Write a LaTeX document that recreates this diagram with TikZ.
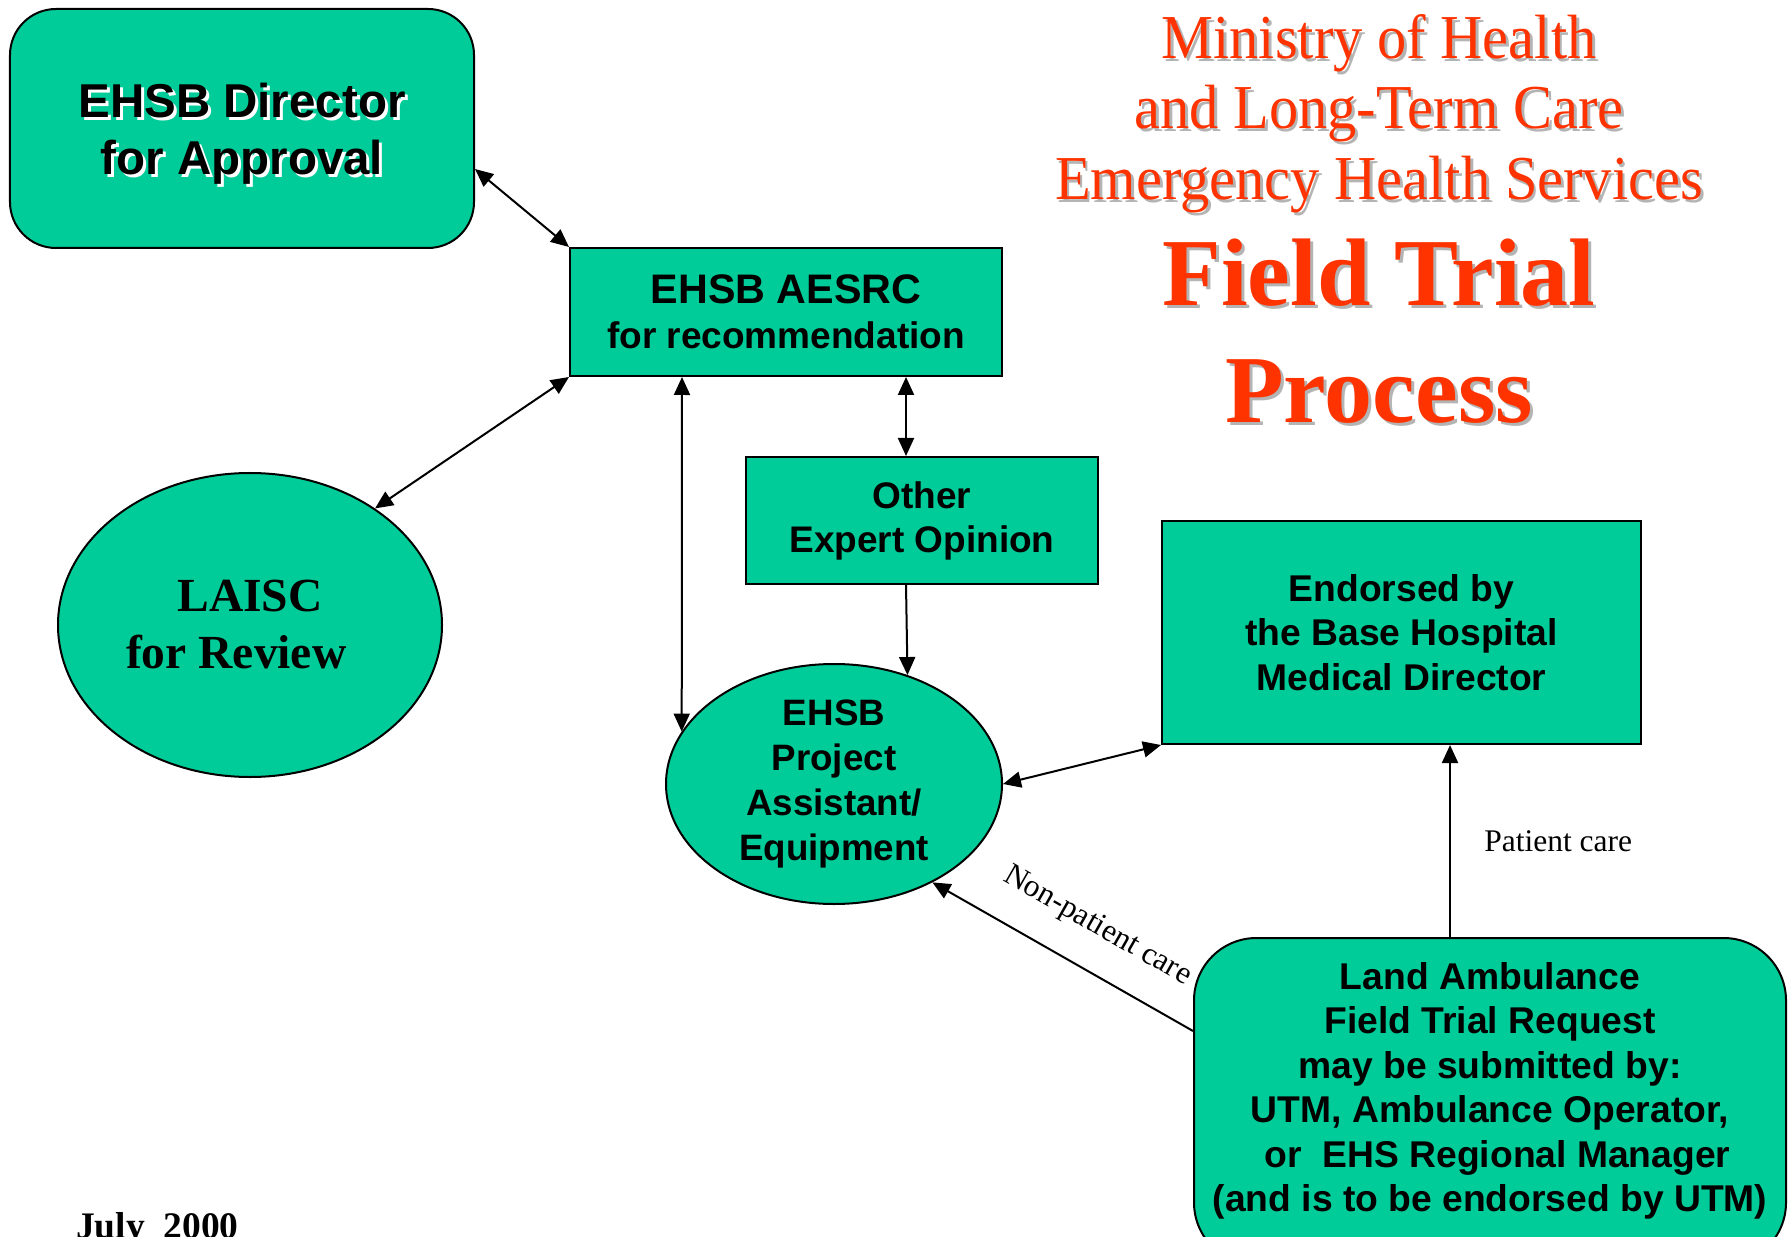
\documentclass[tikz,border=0pt]{standalone}
\usepackage{fontspec}
\usepackage{graphicx}
\setmainfont{Liberation Serif}
\setsansfont{Liberation Sans}
\usetikzlibrary{arrows.meta,shapes.geometric}
\definecolor{boxgreen}{HTML}{00CC99}
\definecolor{titlered}{HTML}{FF3300}
\definecolor{shadowgray}{HTML}{B4B4B4}
\newcommand\shadowed[2]{\makebox[0pt][l]{\hspace*{1.2pt}\raisebox{-1.2pt}{\color{#1}#2}}#2}
\newcommand\narrowed[1]{\scalebox{0.935}[1]{#1}}

\begin{document}
\begin{tikzpicture}[x=0.4pt,y=-0.4pt,>={Triangle[length=7.2pt,width=6.4pt]},line width=0.8pt,
  greenbox/.style={draw,fill=boxgreen,align=center,inner sep=0pt,font=\sffamily\bfseries},
  greenoval/.style={greenbox,ellipse},
  titleline/.style={anchor=base,text=titlered,font=\fontsize{25}{28}\selectfont},
  bigtitle/.style={anchor=base,text=titlered,font=\bfseries\fontsize{38.4}{46}\selectfont},
  remark/.style={font=\fontsize{12.6}{14}\selectfont}]
  \useasboundingbox (0,0) rectangle (1791,1237);
  \clip (0,0) rectangle (1791,1237);

  \node[greenbox,rounded corners=18.4pt,minimum width=185.6pt,minimum height=95.6pt,
    font=\sffamily\bfseries\fontsize{19}{22.8}\selectfont] (director) at (242,128.5)
    {\rule{0pt}{19.5pt}\shadowed{white}{EHSB Director}\\\shadowed{white}{for Approval}};
  \node[greenbox,minimum width=172.8pt,minimum height=51.2pt,
    font=\sffamily\bfseries\fontsize{14.8}{18}\selectfont] (aesrc) at (786,312)
    {{\fontsize{16.5}{18}\selectfont EHSB AESRC}\\for recommendation};
  \node[greenbox,minimum width=140.8pt,minimum height=50.8pt,
    font=\sffamily\bfseries\fontsize{14.8}{17.6}\selectfont] (other) at (922,520.5)
    {Other\\Expert Opinion};
  \node[greenbox,minimum width=191.6pt,minimum height=89.2pt,
    font=\sffamily\bfseries\fontsize{14.9}{17.8}\selectfont] (endorsed) at (1401.5,632.5)
    {Endorsed by\\the Base Hospital\\Medical Director};
  \node[greenoval,minimum width=153.6pt,minimum height=121.6pt,
    font=\bfseries\fontsize{19}{22.8}\selectfont] (laisc) at (250,625)
    {LAISC\\for Review\hspace*{11pt}};
  \node[greenoval,minimum width=134.4pt,minimum height=96pt,
    font=\sffamily\bfseries\fontsize{14.7}{17.9}\selectfont] (project) at (834,784)
    {EHSB\\Project\\Assistant/\\Equipment};
  \node[greenbox,rounded corners=25pt,minimum width=236.8pt,minimum height=130.8pt,text depth=11.6pt,
    font=\sffamily\bfseries\fontsize{14.9}{17.8}\selectfont] (ambulance) at (1490,1101.5)
    {Land Ambulance\\Field Trial Request\\may be submitted by:\\UTM, Ambulance Operator,\\\hspace*{6pt}or\ \ EHS Regional Manager\\(and is to be endorsed by UTM)};

  % title
  \node[titleline] (ministry) at (1379,59) {\narrowed{\shadowed{shadowgray}{Ministry of Health}}};
  \node[titleline] (longterm) at (1379,129) {\narrowed{\shadowed{shadowgray}{and Long-Term Care}}};
  \node[titleline] (ehs) at (1379,200) {\narrowed{\shadowed{shadowgray}{Emergency Health Services}}};
  \node[bigtitle] (field) at (1379,306) {\shadowed{shadowgray}{Field Trial}};
  \node[bigtitle] (process) at (1379,423) {\shadowed{shadowgray}{Process}};
  \node[anchor=base west,inner sep=0pt,font=\bfseries\fontsize{15}{18}\selectfont] (date) at (75,1238) {July\ \ 2000};

  \draw[<->] ([yshift=-16.2pt]director.east) -- (aesrc.north west);
  \draw[<->] (aesrc.south west) -- (laisc.43);
  \draw[<->] ([xshift=-41.6pt]aesrc.south) -- (project.161);
  \draw[<->] ([xshift=48pt]aesrc.south) -- ([xshift=48pt]aesrc.south |- other.north);
  \draw[->] ([xshift=-6.4pt]other.south) -- (project.56);
  \draw[<->] (project.east) -- (endorsed.south west);
  \draw[->] ([xshift=19.4pt]endorsed.south |- ambulance.north) -- ([xshift=19.4pt]endorsed.south)
    node[midway,right=10pt,remark] (patient) {Patient care};
  \draw[->] ([yshift=28.2pt]ambulance.west) -- (project.-45)
    node[pos=0.45,sloped,above=8pt,remark] (nonpatient) {Non-patient care};
\end{tikzpicture}
\end{document}
